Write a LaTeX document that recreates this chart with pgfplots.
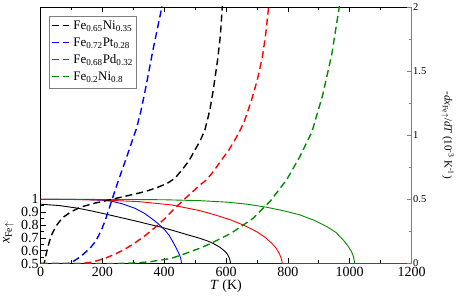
\documentclass[border=0pt]{standalone}
\usepackage{fontspec}
\setmainfont{Liberation Serif}
\usepackage{pgfplots}
\pgfplotsset{compat=1.18}
\definecolor{ggreen}{RGB}{0,139,0}
\definecolor{gblue}{RGB}{0,0,255}
\definecolor{gred}{RGB}{255,0,0}
\definecolor{gblack}{RGB}{0,0,0}
\tikzset{dsh/.style={line width=1.4bp, dash pattern=on 7bp off 4bp}}
\newcommand{\lf}{\fontsize{13bp}{15bp}\selectfont}
\newcommand{\samp}[1]{\textcolor{#1}{\rule[0.28em]{7bp}{1.4bp}\hspace{4bp}\rule[0.28em]{6bp}{1.4bp}}}
\begin{document}
\begin{tikzpicture}
\begin{axis}[
 at={(0,0)}, anchor=south west,
 scale only axis, width=371bp, height=256.5bp,
 xmin=0, xmax=1200, ymin=0.5, ymax=2.5,
 xtick={0,200,...,1200}, minor xtick={100,300,...,1100},
 ytick={0.5,0.6,0.7,0.8,0.9,1}, minor ytick={0.55,0.65,0.75,0.85,0.95},
 ytick pos=left, xtick pos=both,
 tick align=inside,
 major tick length=5bp, minor tick length=3bp,
 tick style={black, line width=0.6bp},
 axis line style={line width=0.8bp},
 /pgf/number format/assume math mode=true,
 /pgf/number format/1000 sep={},
 ticklabel style={font=\fontsize{14bp}{16bp}\selectfont},
 yticklabel style={inner xsep=1.5bp},
 xlabel={\textit{T} (K)},
 ylabel={\fontsize{14bp}{16bp}\selectfont\textit{x}\textsubscript{Fe$\uparrow$}},
 xlabel style={font=\fontsize{14bp}{16bp}\selectfont, yshift=4bp},
 every axis y label/.style={at={(rel axis cs:0,0.119)}, xshift=-32bp, rotate=90, anchor=center},
 line width=0.9bp,
]
\addplot[draw=gblack] coordinates {(0,0.9625)(60,0.952)(121,0.931)(165,0.91)(208,0.887)(260,0.858)(315,0.827)(350,0.806)(391,0.783)(435,0.753)(477,0.723)(516,0.696)(540,0.676)(559,0.656)(580,0.627)(597,0.594)(605,0.57)(611,0.541)(614,0.515)(614.5,0.5)(1200,0.5)};
\addplot[draw=ggreen] coordinates {(0,1)(300,0.999)(400,0.997)(516,0.99)(606,0.978)(670,0.962)(731,0.939)(790,0.909)(839,0.879)(885,0.837)(926,0.788)(955,0.743)(979,0.684)(995,0.635)(1006,0.592)(1012,0.555)(1015,0.52)(1017,0.5)(1200,0.5)};
\addplot[draw=gblue] coordinates {(0,1)(100,1)(150,0.998)(200,0.993)(229,0.986)(265,0.965)(305,0.931)(335,0.893)(358,0.853)(380,0.812)(402,0.762)(416,0.72)(428,0.67)(438,0.625)(445,0.592)(450,0.565)(453.5,0.541)(455,0.52)(456,0.5)(1200,0.5)};
\addplot[draw=gred] coordinates {(0,1)(100,0.999)(200,0.995)(315,0.983)(423,0.957)(516,0.912)(570,0.875)(615,0.84)(660,0.796)(699,0.748)(725,0.707)(748,0.658)(762,0.62)(772,0.58)(778,0.545)(781,0.514)(782,0.5)(1200,0.5)};
\end{axis}
\begin{axis}[
 at={(0,0)}, anchor=south west,
 scale only axis, width=371bp, height=256.5bp,
 xmin=0, xmax=1200, ymin=0, ymax=2,
 axis x line=none, axis y line*=right,
 y axis line style={gray, line width=0.8bp},
 ytick={0,0.5,...,2}, minor ytick={0.25,0.75,1.25,1.75},
 tick align=inside, ytick style={gray, line width=0.6bp},
 major tick length=5bp, minor tick length=3bp,
 /pgf/number format/assume math mode=true,
 yticklabel style={font=\fontsize{10.5bp}{12bp}\selectfont, inner xsep=1.5bp},
 ylabel={-\textit{dx}\textsubscript{Fe$\uparrow$}/\textit{dT} (10\textsuperscript{-3} K\textsuperscript{-1})},
 every axis y label/.style={at={(rel axis cs:1,0.5)}, xshift=36bp, rotate=-90, anchor=center, font=\fontsize{11bp}{13bp}\selectfont},
]
\addplot[draw=gblack, dsh] coordinates {(0,0)(12,0)(18,0.07)(25,0.14)(35,0.22)(50,0.29)(70,0.355)(100,0.405)(130,0.44)(175,0.47)(230,0.5)(275,0.525)(320,0.55)(350,0.57)(380,0.595)(410,0.625)(435,0.665)(456,0.725)(480,0.80)(500,0.887)(517,0.96)(532,1.043)(548,1.2)(559,1.355)(573,1.59)(582,1.78)(588,2.0)(590,2.05)};
\addplot[draw=gblue, dsh] coordinates {(0,0)(89,0)(105,0.015)(121,0.04)(140,0.075)(164,0.13)(180,0.18)(197,0.26)(210,0.34)(224,0.444)(237,0.54)(251,0.64)(267,0.75)(283,0.86)(297,0.96)(310,1.05)(324,1.18)(337,1.33)(350,1.49)(364,1.668)(378,1.83)(391,1.98)(393,2.05)};
\addplot[draw=gred, dsh] coordinates {(0,0)(130,0)(170,0.012)(208,0.04)(240,0.072)(272,0.11)(305,0.16)(337,0.215)(370,0.28)(402,0.35)(430,0.42)(460,0.49)(490,0.555)(516,0.613)(537,0.652)(560,0.72)(586,0.809)(608,0.88)(629,0.965)(646,1.04)(661,1.12)(683,1.277)(701,1.43)(717,1.60)(728,1.78)(737,1.98)(740,2.05)};
\addplot[draw=ggreen, dsh] coordinates {(0,0)(250,0)(300,0.004)(350,0.012)(423,0.04)(460,0.07)(499,0.105)(516,0.119)(552,0.158)(606,0.223)(624,0.248)(688,0.353)(742,0.483)(796,0.652)(839,0.834)(878,1.027)(913,1.316)(942,1.629)(965,1.98)(969,2.05)};
\node[anchor=north west, draw=gray, line width=0.6bp, fill=white, inner sep=3bp, font=\lf] at (rel axis cs:0.023,0.965) {%
\begin{tabular}{@{}l@{\hspace{4bp}}l@{}}
\samp{gblack} & Fe\textsubscript{0.65}Ni\textsubscript{0.35}\\[2bp]
\samp{gblue} & Fe\textsubscript{0.72}Pt\textsubscript{0.28}\\[2bp]
\samp{gred} & Fe\textsubscript{0.68}Pd\textsubscript{0.32}\\[2bp]
\samp{ggreen} & Fe\textsubscript{0.2}Ni\textsubscript{0.8}
\end{tabular}};
\end{axis}
\pgfresetboundingbox
\path[use as bounding box] (-40.5bp,-35.5bp) rectangle (422.5bp,263.5bp);
\end{tikzpicture}
\end{document}
